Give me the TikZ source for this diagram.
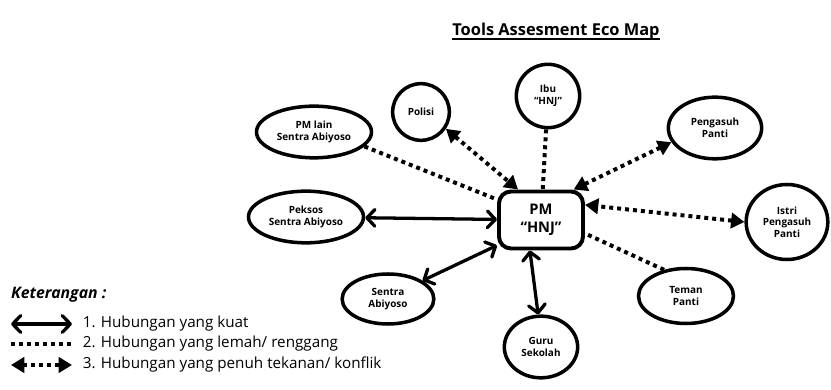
\documentclass[tikz,border=0pt]{standalone}
\usepackage{fontspec}
\setmainfont{Open Sans}
\usetikzlibrary{positioning, arrows.meta, shapes.geometric}

\begin{document}
\begin{tikzpicture}[
		on grid,
		eco/.style={ellipse, draw, line width=3pt, align=center, inner sep=0pt,
			font=\fontsize{8.5}{10}\selectfont\bfseries},
		kuat/.style={line width=2.8pt,
			{Straight Barb[length=2.4mm,width=5mm,round]}-{Straight Barb[length=2.4mm,width=5mm,round]}},
		lemah/.style={line width=3.4pt, dash pattern=on 3.4pt off 3.4pt},
		konflik/.style={lemah, {Triangle[length=4mm,width=4.6mm]}-{Triangle[length=4mm,width=4.6mm]}},
		ket/.style={anchor=west, font=\fontsize{13}{15}\selectfont}
	]
		\useasboundingbox (-16.23,-5.1) rectangle (8.7,6.6);
		
		%tengah
		\node[draw, rounded corners=0.36cm, line width=3.4pt, minimum width=2.52cm, minimum height=1.71cm,
			align=center, font=\fontsize{12.5}{15}\selectfont\bfseries] (pm) at (0,0) {PM\\“HNJ”};
		
		%judul
		\node[above right = 5.65cm and 0.45cm of pm, inner sep=0pt,
			font=\fontsize{14}{16}\selectfont\bfseries] (judul) {Tools Assesment Eco Map};
		\draw[line width=1.2pt] ([yshift=-2.5pt]judul.base west) -- ([yshift=-2.5pt]judul.base east);
		
		%sistem
		\node[eco, circle, minimum size=1.7cm, above left = 3.24cm and 3.6cm of pm] (polisi) {Polisi};
		\node[eco, minimum width=3.45cm, minimum height=1.55cm, above left = 2.64cm and 6.81cm of pm] (pmlain) {PM lain\\Sentra Abiyoso};
		\node[eco, circle, minimum size=1.9cm, above right = 3.72cm and 0.21cm of pm] (ibu) {Ibu\\“HNJ”};
		\node[eco, minimum width=2.8cm, minimum height=1.85cm, above right = 2.76cm and 5.22cm of pm] (pengasuh) {Pengasuh\\Panti};
		\node[eco, minimum width=2.45cm, minimum height=2.25cm, below right = 0.06cm and 7.38cm of pm] (istri) {Istri\\Pengasuh\\Panti};
		\node[eco, minimum width=2.85cm, minimum height=1.65cm, below right = 2.28cm and 4.35cm of pm] (teman) {Teman\\Panti};
		\node[eco, minimum width=2.2cm, minimum height=1.85cm, below = 3.81cm of pm] (guru) {Guru\\Sekolah};
		\node[eco, minimum width=2.75cm, minimum height=1.5cm, below left = 2.37cm and 4.59cm of pm] (sentra) {Sentra\\Abiyoso};
		\node[eco, minimum width=3.45cm, minimum height=1.55cm, above left = 0.09cm and 7.05cm of pm] (peksos) {Peksos\\Sentra Abiyoso};
		
		%hubungan
		\draw (pmlain.-16) edge[lemah] (pm.155);
		\draw (ibu) edge[lemah] (pm);
		\draw (teman.130) edge[lemah] (pm.-17);
		
		\draw (polisi.-34) edge[konflik] (pm.127);
		\draw (pengasuh.198) edge[konflik] (pm.43);
		\draw (istri.west) edge[konflik] (pm.19);
		
		\draw (peksos) edge[kuat] (pm);
		\draw (sentra.28) edge[kuat] (pm.210);
		\draw (guru.95) edge[kuat] (pm.250);
		
		%keterangan
		\node[anchor=west, font=\fontsize{13.5}{15}\selectfont\bfseries\itshape] (judulket) at (-16.02,-2.25) {Keterangan :};
		\coordinate (k1a) at (-15.9,-3.12);
		\coordinate (k1b) at (-14.07,-3.12);
		\coordinate (k2a) at (-15.9,-3.72);
		\coordinate (k2b) at (-14.07,-3.72);
		\coordinate (k3a) at (-15.9,-4.35);
		\coordinate (k3b) at (-14.07,-4.35);
		
		\draw (k1a) edge[kuat] (k1b);
		\draw (k2a) edge[lemah] (k2b);
		\draw (k3a) edge[konflik] (k3b);
		
		\node[ket] (ket1) at ([xshift=0.2cm]k1b) {1. Hubungan yang kuat};
		\node[ket] (ket2) at ([xshift=0.2cm]k2b) {2. Hubungan yang lemah/ renggang};
		\node[ket] (ket3) at ([xshift=0.2cm]k3b) {3. Hubungan yang penuh tekanan/ konflik};
		
	\end{tikzpicture}
\end{document}
